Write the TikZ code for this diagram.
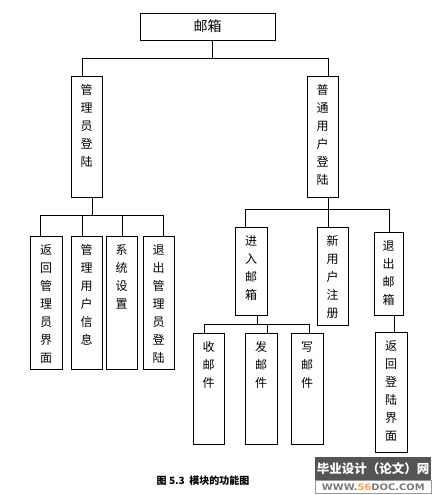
\documentclass[tikz,border=0pt]{standalone}
\usepackage{fontspec}
\setmainfont{Noto Sans CJK SC}
\newfontfamily\wmlatin{DejaVu Sans}
\definecolor{wmgray}{HTML}{555555}
\definecolor{wmtext}{HTML}{7A7A7A}
\definecolor{wmorange}{HTML}{F0A050}
\newcommand\mybox[6]{%
  \node[box, minimum width={#4-#2}, minimum height={#5-#3}] (#1) at ({(#2+#4)/2},{(#3+#5)/2}) {};
  \node[lbl] (#1l) at ([yshift=-9pt]#1.north) {#6};}
\begin{document}
\begin{tikzpicture}[x=1pt,y=-1pt,
  box/.style={draw, line width=0.8pt, inner sep=0pt},
  lbl/.style={font=\fontsize{12}{18}\selectfont, align=center, inner sep=0pt, anchor=north},
  conn/.style={line width=0.8pt}]
\useasboundingbox (0,0) rectangle (439,495);
% top
\node[box, minimum width=135, minimum height=27, font=\fontsize{14}{16}\selectfont] (T) at (207.5,26.5) {邮箱};
% level 1
\mybox{A}{71}{76}{102}{197}{管\\理\\员\\登\\陆}
\mybox{U}{307}{76}{338}{197}{普\\通\\用\\户\\登\\陆}
% admin children
\mybox{A1}{30}{236}{62}{369}{返\\回\\管\\理\\员\\界\\面}
\mybox{A2}{71}{236}{102}{369}{管\\理\\用\\户\\信\\息}
\mybox{A3}{106}{236}{137}{369}{系\\统\\设\\置}
\mybox{A4}{143}{236}{174}{369}{退\\出\\管\\理\\员\\登\\陆}
% user children
\mybox{U1}{235}{227}{267}{315}{进\\入\\邮\\箱}
\mybox{U2}{317}{227}{348}{325}{新\\用\\户\\注\\册}
\mybox{U3}{374}{232}{403}{315}{退\\出\\邮\\箱}
\mybox{U4}{375}{332}{407}{452}{返\\回\\登\\陆\\界\\面}
% mail children
\mybox{M1}{193}{333}{224}{444}{收\\邮\\件}
\mybox{M2}{245}{333}{277}{444}{发\\邮\\件}
\mybox{M3}{291}{333}{323}{444}{写\\邮\\件}
% connectors: top
\coordinate (t0) at (212,58);
\coordinate (ta) at (82,58);
\coordinate (tu) at (328,58);
\draw[conn] (T.south -| t0) -- (t0);
\draw[conn] (ta) -- (tu);
\draw[conn] (ta) -- (A.north -| ta);
\draw[conn] (tu) -- (U.north -| tu);
% admin bus
\coordinate (a0) at (92,215);
\coordinate (a1) at (40,215);
\coordinate (a2) at (82,215);
\coordinate (a3) at (122,215);
\coordinate (a4) at (163,215);
\draw[conn] (A.south -| a0) -- (a0);
\draw[conn] (a1) -- (a4);
\foreach \i in {1,2,3,4} {\draw[conn] (a\i) -- (A\i.north -| a\i);}
% user bus
\coordinate (u0) at (328,209);
\coordinate (u1) at (245,209);
\coordinate (u2) at (328,209);
\coordinate (u3) at (389,209);
\draw[conn] (U.south -| u0) -- (u0);
\draw[conn] (u1) -- (u3);
\foreach \i in {1,2,3} {\draw[conn] (u\i) -- (U\i.north -| u\i);}
% mail bus
\coordinate (m0) at (257,324);
\coordinate (m1) at (204,324);
\coordinate (m2) at (267,324);
\coordinate (m3) at (309,324);
\draw[conn] (U1.south -| m0) -- (m0);
\draw[conn] (m1) -- (m3);
\draw[conn] (m1) -- (M1.north -| m1);
\draw[conn] (m2) -- (M2.north -| m2);
\draw[conn] (m3) -- (M3.north -| m3);
% exit
\coordinate (r) at (394,0);
\draw[conn] (U3.south -| r) -- (U4.north -| r);
% caption
\node[font=\bfseries\fontsize{10}{12}\selectfont, inner sep=0pt] (cap) at (203,481) {图 5.3\ \ 模块的功能图};
% watermark
\node[fill=wmgray, minimum width=116, minimum height=23, inner sep=0pt, anchor=north west] (wm1) at (315,457) {};
\node[font=\bfseries\fontsize{12.5}{15}\selectfont, text=white, inner sep=0pt] (wm1t) at (wm1) {毕业设计（论文）网};
\node[draw=wmgray!60, line width=0.6pt, fill=white, minimum width=116, minimum height=13, inner sep=0pt, anchor=north west] (wm2) at (315,480) {};
\node[font=\wmlatin\bfseries\fontsize{9}{11}\selectfont, text=wmtext, inner sep=0pt, transform shape, xscale=1.1] (wm2t) at (wm2) {WWW.\textcolor{wmorange}{56}DOC.COM};
\end{tikzpicture}
\end{document}
